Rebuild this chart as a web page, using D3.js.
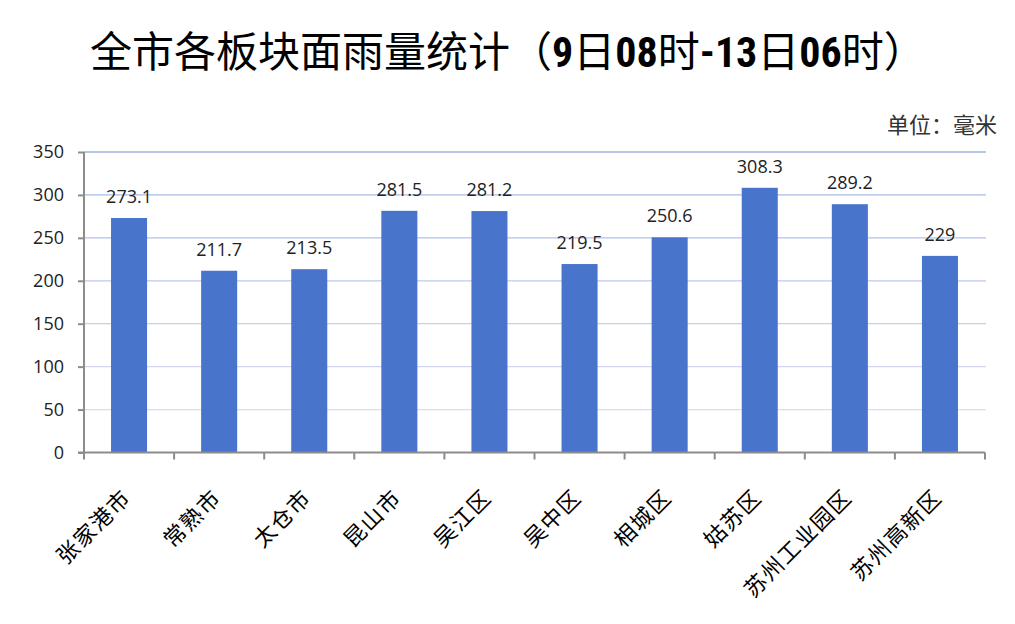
<!DOCTYPE html>
<html><head><meta charset="utf-8">
<script src="https://cdn.jsdelivr.net/npm/d3@7"></script>
<style>body{margin:0;background:#fff}</style>
</head><body>
<svg id="c" width="1015" height="624"></svg>
<script>
const categories = ["张家港市","常熟市","太仓市","昆山市","吴江区","吴中区","相城区","姑苏区","苏州工业园区","苏州高新区"];
const rainfall = [273.1,211.7,213.5,281.5,281.2,219.5,250.6,308.3,289.2,229];
const rainfallLabels = ["273.1","211.7","213.5","281.5","281.2","219.5","250.6","308.3","289.2","229"];
const yTicks = [0,50,100,150,200,250,300,350];
const titleParts = ["全市各板块面雨量统计（","9","日","08","时","-13","日","06","时）"];
const unitText = "单位：毫米";

const svg = d3.select("#c");
const L = 84, R = 985, T = 152, B = 452.5;
const x = d3.scaleBand().domain(categories).range([L, R]).paddingInner(0.6).paddingOuter(0.3);
const y = d3.scaleLinear().domain([0, 350]).range([B, T]);
const gridColor = d3.scaleLinear().domain([50, 350]).range(["#dcdcf0", "#9fb5e6"]);
const numFont = "'Open Sans', 'DejaVu Sans', sans-serif";
const cjk = "'Noto Sans CJK SC', sans-serif";

// title
const title = svg.append("text").attr("x", 90).attr("y", 67)
  .attr("font-family", cjk).attr("font-size", 42).attr("fill", "#000");
title.selectAll("tspan").data(titleParts).join("tspan")
  .attr("font-weight", d => /[0-9]/.test(d) ? "bold" : "normal")
  .attr("font-family", d => /[0-9]/.test(d) ? "'Liberation Sans Narrow','Roboto Condensed','Liberation Sans',sans-serif" : cjk)
  .text(d => d);
svg.append("text").attr("x", 997).attr("y", 133).attr("text-anchor", "end")
  .attr("font-family", cjk).attr("font-size", 22).attr("fill", "#333").text(unitText);

// gridlines
svg.append("g").selectAll("line").data(yTicks.filter(d => d > 0)).join("line")
  .attr("x1", L).attr("x2", R + 1).attr("y1", d => y(d)).attr("y2", d => y(d))
  .attr("stroke", d => gridColor(d)).attr("stroke-width", 1.3);

// bars
svg.append("g").selectAll("rect").data(rainfall).join("rect")
  .attr("x", (d, i) => x(categories[i])).attr("width", x.bandwidth())
  .attr("y", d => y(d)).attr("height", d => B - y(d)).attr("fill", "#4874cb");

// data labels
svg.append("g").selectAll("text").data(rainfall).join("text")
  .attr("x", (d, i) => x(categories[i]) + x.bandwidth() / 2)
  .attr("y", d => y(d) - 15).attr("text-anchor", "middle")
  .attr("font-family", numFont).attr("font-size", 18).attr("fill", "#222")
  .text((d, i) => rainfallLabels[i]);

// y axis
const ya = svg.append("g").attr("transform", `translate(${L},0)`)
  .call(d3.axisLeft(y).tickValues(yTicks).tickSize(6).tickPadding(14).tickSizeOuter(0));
ya.select(".domain").attr("stroke", "#8c8c8c").attr("stroke-width", 2);
ya.selectAll(".tick line").attr("stroke", "#8c8c8c").attr("stroke-width", 2);
ya.selectAll(".tick text").attr("font-family", numFont).attr("font-size", 18).attr("fill", "#222");
ya.select(".domain").attr("d", `M0,${T}V${B}`);

// x axis
const xb = d3.scaleLinear().domain([0, categories.length]).range([L, R]);
const xa = svg.append("g");
xa.append("line").attr("x1", L - 6).attr("x2", R).attr("y1", B).attr("y2", B)
  .attr("stroke", "#8c8c8c").attr("stroke-width", 2);
xa.selectAll("line.t").data(d3.range(categories.length + 1)).join("line").attr("class", "t")
  .attr("x1", d => xb(d)).attr("x2", d => xb(d)).attr("y1", B).attr("y2", B + 7)
  .attr("stroke", "#8c8c8c").attr("stroke-width", 2);
xa.selectAll("text").data(categories).join("text")
  .attr("transform", d => `translate(${x(d) + x.bandwidth() / 2 - 2},${B + 41}) rotate(-45)`)
  .attr("text-anchor", "end").attr("dy", "0.35em").attr("letter-spacing", 1.5)
  .attr("font-family", cjk).attr("font-size", 22).attr("fill", "#000").text(d => d);
</script>
</body></html>
